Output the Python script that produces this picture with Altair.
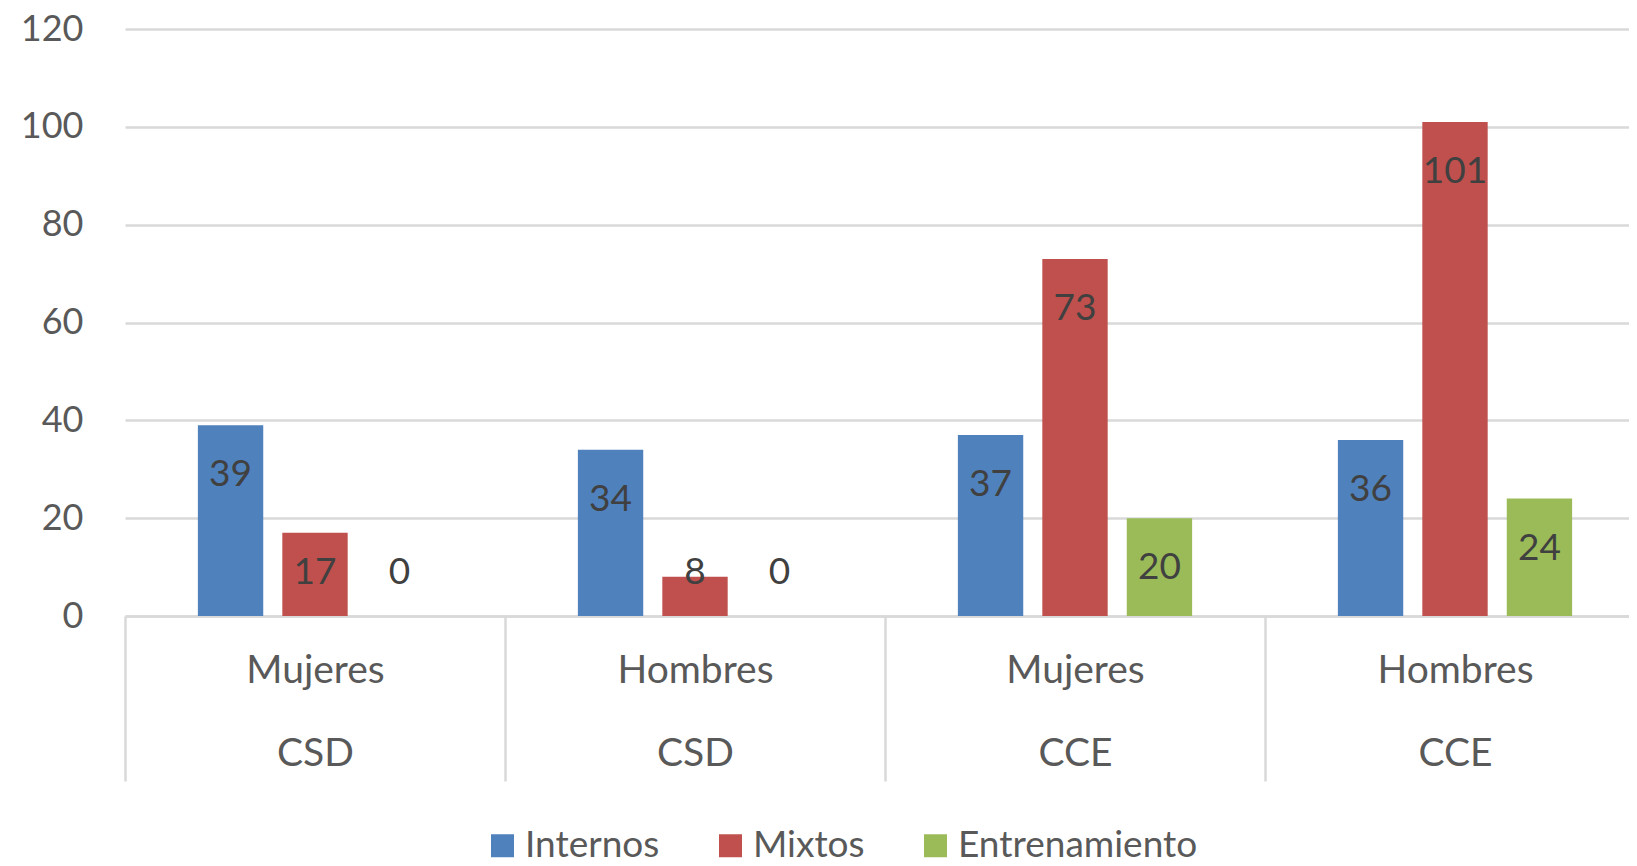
import altair as alt
import pandas as pd

categories_top = ["Mujeres", "Hombres", "Mujeres", "Hombres"]
categories_bottom = ["CSD", "CSD", "CCE", "CCE"]
series = ["Internos", "Mixtos", "Entrenamiento"]
internos = [39, 34, 37, 36]
mixtos = [17, 8, 73, 101]
entrenamiento = [0, 0, 20, 24]
colors = ["#4F81BD", "#C0504D", "#9BBB59"]
y_ticks = [0, 20, 40, 60, 80, 100, 120]

keys = [f"{i}|{t}|{b}" for i, (t, b) in enumerate(zip(categories_top, categories_bottom))]
rows = []
for i, key in enumerate(keys):
    for s, vals in zip(series, [internos, mixtos, entrenamiento]):
        rows.append({"grupo": key, "serie": s, "valor": vals[i]})
df = pd.DataFrame(rows)

FONT = "Lato"
GRID = "#D9D9D9"
LABEL = "#595959"

x_enc = alt.X(
    "grupo:N",
    sort=keys,
    scale=alt.Scale(paddingInner=0, paddingOuter=0, range=[0, 1520]),
    axis=alt.Axis(
        title=None,
        labelExpr="slice(split(datum.label, '|'), 1)",
        labelAngle=0,
        tickBand="extent",
        tickSize=165,
        tickColor=GRID,
        tickWidth=2.5,
        domainColor=GRID,
        domainWidth=2.5,
        labelPadding=-130,
        labelLineHeight=83,
        labelFontSize=39,
        labelColor=LABEL,
        labelFont=FONT,
        labelBaseline="top",
        labelLimit=0,
        grid=False,
    ),
)
xoff_enc = alt.XOffset("serie:N", sort=series, scale=alt.Scale(paddingInner=0.226, paddingOuter=0.863))

bars = alt.Chart(df).mark_bar().encode(
    x=x_enc,
    xOffset=xoff_enc,
    y=alt.Y(
        "valor:Q",
        scale=alt.Scale(domain=[0, 120], nice=False),
        axis=alt.Axis(
            values=y_ticks,
            title=None,
            domain=False,
            ticks=False,
            gridColor=GRID,
            gridWidth=2.5,
            labelPadding=42,
            labelFontSize=36,
            labelColor=LABEL,
            labelFont=FONT,
        ),
    ),
    color=alt.Color(
        "serie:N",
        sort=series,
        scale=alt.Scale(domain=series, range=colors),
        legend=alt.Legend(
            title=None,
            orient="none",
            direction="horizontal",
            legendX=359,
            legendY=798,
            padding=0,
            symbolType="square",
            symbolSize=529,
            symbolStrokeWidth=0,
            labelFontSize=37,
            labelColor=LABEL,
            labelFont=FONT,
            labelLimit=0,
            columnPadding=52,
            labelOffset=4,
        ),
    ),
)

text = alt.Chart(df).transform_calculate(
    labelY="max(datum.valor, 19)"
).mark_text(dy=50, baseline="middle", fontSize=37, font=FONT, color="#404040").encode(
    x=x_enc,
    xOffset=xoff_enc,
    y=alt.Y("labelY:Q"),
    text=alt.Text("valor:Q"),
)

chart = alt.layer(bars, text).properties(
    width=1504,
    height=587,
    padding={"left": 117, "top": 21, "right": 0, "bottom": 242},
    autosize=alt.AutoSizeParams(type="none"),
    background="white",
).configure_view(stroke=None)

chart.save("out.html", embed_options={"renderer": "svg", "actions": False})
